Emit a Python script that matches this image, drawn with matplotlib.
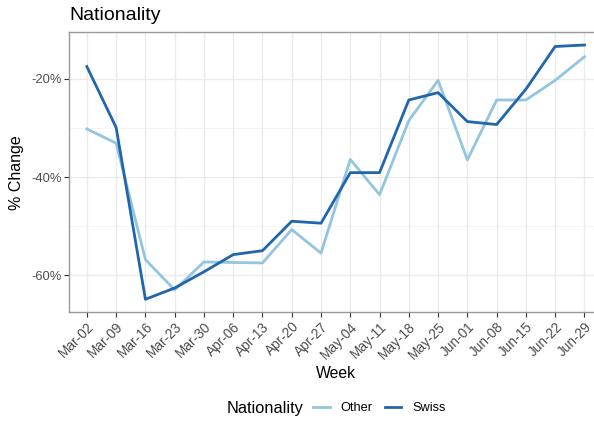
import matplotlib
matplotlib.use("Agg")
import matplotlib.pyplot as plt
import matplotlib.transforms as mtransforms
from matplotlib.ticker import FuncFormatter, MultipleLocator

plt.rcParams["font.family"] = ["Liberation Sans", "DejaVu Sans"]

weeks = ["Mar-02", "Mar-09", "Mar-16", "Mar-23", "Mar-30", "Apr-06", "Apr-13",
         "Apr-20", "Apr-27", "May-04", "May-11", "May-18", "May-25", "Jun-01",
         "Jun-08", "Jun-15", "Jun-22", "Jun-29"]
other = [-30.2, -33.1, -56.8, -63.0, -57.3, -57.4, -57.5, -50.7, -55.5,
         -36.4, -43.6, -28.5, -20.3, -36.5, -24.3, -24.3, -20.3, -15.5]
swiss = [-17.5, -29.9, -64.9, -62.6, -59.3, -55.8, -55.0, -49.0, -49.4,
         -39.1, -39.1, -24.3, -22.8, -28.7, -29.3, -22.1, -13.4, -13.1]

c_other = "#92c5de"
c_swiss = "#2166ac"

W, H = 594, 421
fig = plt.figure(figsize=(W / 100, H / 100), dpi=100)
# the panel runs a little past the right edge of the image, as in the original
left, right, top, bottom = 69.3, 602, 32.3, 312
ax = fig.add_axes([left / W, 1 - bottom / H, (right - left) / W, (bottom - top) / H])

x = range(len(weeks))
ax.plot(x, other, color=c_other, lw=2.0, label="Other", zorder=3)
ax.plot(x, swiss, color=c_swiss, lw=2.0, label="Swiss", zorder=4)

ax.set_xlim(-0.6, len(weeks) - 1 + 0.6)
lo = min(min(other), min(swiss))
hi = max(max(other), max(swiss))
pad = (hi - lo) * 0.05
ax.set_ylim(lo - pad, hi + pad)

ax.set_xticks(list(x))
ax.set_xticklabels(weeks, rotation=45, ha="right", rotation_mode="anchor",
                   fontsize=9.8, color="#4d4d4d")
# ggplot puts the rotated labels a bit to the right of the tick
shift = mtransforms.ScaledTranslation(5 / 100, 0, fig.dpi_scale_trans)
for lab in ax.get_xticklabels():
    lab.set_transform(lab.get_transform() + shift)

ax.yaxis.set_major_locator(MultipleLocator(20))
ax.yaxis.set_minor_locator(MultipleLocator(10))
ax.yaxis.set_major_formatter(FuncFormatter(lambda v, p: "%d%%" % v))
ax.tick_params(axis="y", labelsize=9.3, labelcolor="#4d4d4d")
ax.tick_params(which="major", length=3.5, width=0.8, color="#333333", pad=2)
ax.tick_params(which="minor", length=0)

ax.grid(which="major", color="#ebebeb", lw=1.0)
ax.grid(which="minor", axis="y", color="#f2f2f2", lw=0.6)
ax.set_axisbelow(True)
for s in ax.spines.values():
    s.set_color("#999999")
    s.set_linewidth(1.0)

ax.set_xlabel("Week", fontsize=11.3, labelpad=3)
ax.set_ylabel("% Change", fontsize=11.5, labelpad=5)
fig.text(left / W, 1 - 15 / H, "Nationality", fontsize=14, va="center", ha="left")

# legend: title to the left of the keys, ggplot style
fig.text(303 / W, 1 - 408 / H, "Nationality", fontsize=11.8, va="center", ha="right")
fig.legend(loc="center left", bbox_to_anchor=(313 / W, 1 - 408 / H), ncol=2,
           frameon=False, fontsize=9.2, handlelength=1.3, handletextpad=0.85,
           columnspacing=0.95, borderaxespad=0, borderpad=0)

fig.savefig("out.png", dpi=100)
